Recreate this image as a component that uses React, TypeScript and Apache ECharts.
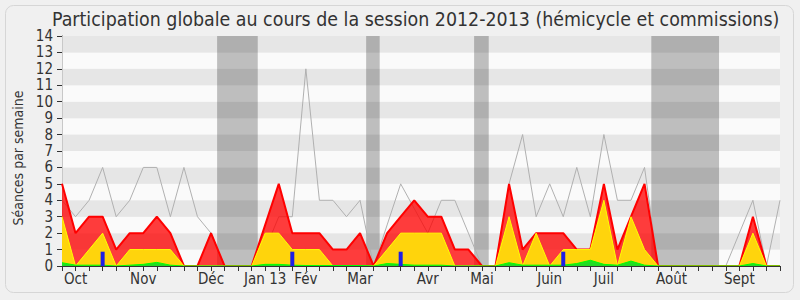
import React, { useEffect, useRef } from 'react';
import * as echarts from 'echarts';

const chartTitle = 'Participation globale au cours de la session 2012-2013 (hémicycle et commissions)';
const yAxisTitle = 'Séances par semaine';

// week index -> month label
const monthTicks: [number, string][] = [
  [1, 'Oct'], [6, 'Nov'], [11, 'Déc'], [15, 'Jan 13'], [18, 'Fév'], [22, 'Mar'],
  [27, 'Avr'], [31, 'Mai'], [36, 'Juin'], [40, 'Juil'], [45, 'Août'], [50, 'Sept'],
];

// weekly values, weeks 0..53
const totalSeances = [
  4, 3, 4, 6, 3, 4, 6, 6, 3, 6, 3, 2, 0, 0, 0, 1, 3, 3, 12, 4,
  4, 3, 4, 0, 2.5, 5, 3.5, 2, 4, 4, 2, 0, 0, 5, 8, 3, 5, 3, 6, 3,
  8, 4, 4, 6, 0, 0, 0, 0, 0, 0, 2, 4, 0, 4,
];
const presenceTotale = [
  5, 2, 3, 3, 1, 2, 2, 3, 2, 0, 0, 2, 0, 0, 0, 2.5, 5, 2, 2, 2,
  1, 1, 2, 0, 2, 3, 4, 3, 3, 1, 1, 0, 0, 5, 1, 2, 2, 2, 1, 1,
  5, 1, 3, 5, 0, 0, 0, 0, 0, 0, 0, 3, 0, 0,
];
const presenceCommission = [
  3, 0, 1, 2, 0, 1, 1, 1, 1, 0, 0, 0, 0, 0, 0, 2, 2, 1, 1, 1,
  0, 0, 0, 0, 1, 2, 2, 2, 2, 0, 0, 0, 0, 3, 0, 2, 0, 1, 1, 1,
  4, 0, 3, 1, 0, 0, 0, 0, 0, 0, 0, 2, 0, 0,
];
const interventions = [
  0.2, 0.05, 0.05, 0.05, 0, 0.05, 0.1, 0.22, 0.05, 0, 0, 0, 0, 0, 0, 0.1, 0.1, 0.05, 0.03, 0.03,
  0.03, 0.03, 0.03, 0, 0.15, 0.1, 0.05, 0.05, 0.05, 0, 0, 0, 0, 0.2, 0.05, 0.05, 0.05, 0.05, 0.15, 0.35,
  0.1, 0.05, 0.3, 0.05, 0, 0, 0, 0, 0, 0, 0, 0.15, 0, 0,
];
const questionWeeks = [3, 17, 25, 37];
const questionValues = [0.87, 0.87, 0.87, 0.87];

// parliamentary recesses (in week units)
const vacations: [number, number][] = [
  [11.45, 14.45], [22.45, 23.45], [30.42, 31.5], [43.5, 48.5],
];

const FONT = '"DejaVu Sans Condensed", "DejaVu Sans", sans-serif';

const weekIdx = totalSeances.map((_, i) => i);
const pairs = (arr: number[]) => weekIdx.map((i) => [i, arr[i]]);

export default function App() {
  const ref = useRef<HTMLDivElement>(null);
  useEffect(() => {
    if (!ref.current) return;
    const chart = echarts.init(ref.current, undefined, { renderer: 'svg' });
    const monthMap: Record<number, string> = {};
    monthTicks.forEach(([w, l]) => (monthMap[w] = l));
    chart.setOption({
      animation: false,
      backgroundColor: '#f0f0f0',
      title: {
        text: chartTitle,
        left: 47,
        top: 5,
        textStyle: { fontFamily: FONT, fontSize: 19.4, fontWeight: 'normal', color: '#333' },
      },
      graphic: [
        {
          type: 'rect',
          shape: { x: 5.5, y: 5.5, width: 788, height: 287, r: 8 },
          style: { fill: 'none', stroke: '#d6d6d6', lineWidth: 1 },
          silent: true,
        },
        {
          type: 'text',
          x: 18,
          y: 158,
          rotation: Math.PI / 2,
          style: {
            text: yAxisTitle,
            font: `14px ${FONT}`,
            fill: '#333',
            textAlign: 'center',
            textVerticalAlign: 'middle',
          },
        },
      ],
      grid: { left: 62, right: 20, top: 36, bottom: 34, containLabel: false },
      xAxis: [
        {
          type: 'value',
          min: 0,
          max: 53,
          interval: 1,
          position: 'bottom',
          z: 10,
          axisLine: { show: true, lineStyle: { color: '#333', width: 1 } },
          axisTick: { show: true, length: 5, lineStyle: { color: '#333' } },
          axisLabel: {
            formatter: (v: number) => monthMap[v] ?? '',
            margin: 5,
            fontFamily: FONT,
            fontSize: 15,
            color: '#333',
          },
          splitLine: { show: false },
        },
        {
          type: 'value',
          min: 0,
          max: 53,
          interval: 1,
          position: 'top',
          axisLine: { show: false },
          axisTick: { show: true, inside: true, length: 1.5, lineStyle: { color: '#444' } },
          axisLabel: { show: false },
          splitLine: { show: false },
        },
      ],
      yAxis: [
        {
          type: 'value',
          min: 0,
          max: 14,
          interval: 1,
          axisLine: { show: true, lineStyle: { color: '#333' } },
          axisTick: { show: true, length: 5, lineStyle: { color: '#333' } },
          axisLabel: { margin: 9, fontFamily: FONT, fontSize: 15, color: '#333' },
          splitLine: { show: false },
          splitArea: { show: true, areaStyle: { color: ['#fafafa', '#e6e6e6'] } },
        },
        {
          type: 'value',
          min: 0,
          max: 14,
          interval: 1,
          position: 'right',
          axisLine: { show: true, lineStyle: { color: '#c8c8c8' } },
          axisTick: { show: false },
          axisLabel: { show: false },
          splitLine: { show: false },
        },
      ],
      series: [
        {
          name: 'Séances totales',
          type: 'line',
          data: pairs(totalSeances),
          symbol: 'none',
          lineStyle: { color: '#b0b0b0', width: 1 },
          z: 1,
        },
        {
          name: 'Présence',
          type: 'line',
          data: pairs(presenceTotale),
          symbol: 'none',
          lineStyle: { color: '#ff0000', width: 2 },
          areaStyle: { color: 'rgba(255,0,0,0.76)', opacity: 1 },
          z: 2,
        },
        {
          name: 'Commission',
          type: 'line',
          data: pairs(presenceCommission),
          symbol: 'none',
          lineStyle: { color: '#ffff00', width: 1 },
          areaStyle: { color: '#ffd40c', opacity: 1 },
          z: 3,
        },
        {
          name: 'Interventions',
          type: 'line',
          data: pairs(interventions),
          symbol: 'none',
          lineStyle: { color: '#00ff00', width: 1 },
          areaStyle: { color: '#22dd22', opacity: 1 },
          z: 4,
        },
        {
          name: 'Questions',
          type: 'bar',
          data: questionWeeks.map((w, k) => [w, questionValues[k]]),
          barWidth: 4,
          itemStyle: { color: '#1e1ee6' },
          z: 5,
        },
        {
          name: 'Vacances',
          type: 'line',
          data: [],
          z: 6,
          markArea: {
            silent: true,
            itemStyle: { color: 'rgba(0,0,0,0.24)' },
            data: vacations.map(([a, b]) => [{ xAxis: a }, { xAxis: b }]),
          },
        },
      ],
    });
    return () => chart.dispose();
  }, []);
  return (
    <div
      ref={ref}
      style={{ position: 'fixed', left: 0, top: 0, width: 800, height: 300 }}
    />
  );
}
